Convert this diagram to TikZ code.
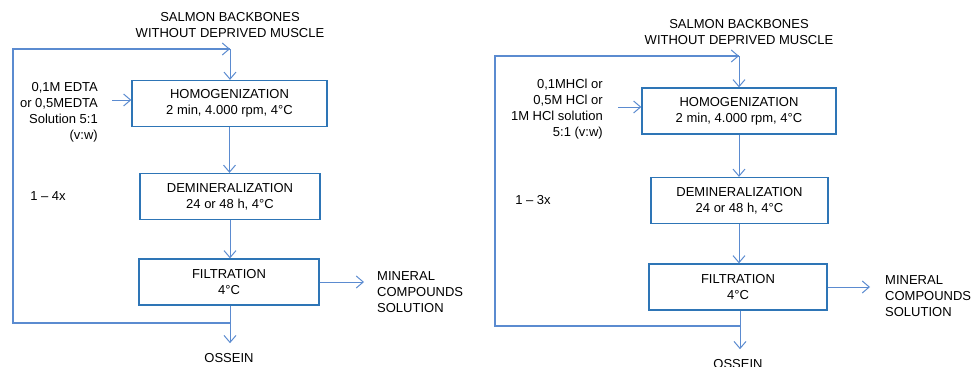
\documentclass[tikz,border=0pt]{standalone}
\usepackage{fontspec}
\setmainfont{Liberation Sans}
\usepackage{xcolor}
\usetikzlibrary{arrows.meta, positioning, calc}

\definecolor{boxblue}{HTML}{2E75B6}
\definecolor{arrblue}{HTML}{5B8BD0}

\begin{document}
\begin{tikzpicture}[
    x=1pt, y=-1pt,
    stage/.style={draw=boxblue, line width=1.3pt, rectangle, minimum height=46pt,
                  align=center, inner sep=0pt, font=\fontsize{13}{16}\selectfont},
    txt/.style={inner sep=0pt, font=\fontsize{13}{16}\selectfont},
    arr/.style={-{Straight Barb[length=7pt,width=12pt]}, draw=arrblue, line width=1pt},
    loop/.style={draw=arrblue, line width=1.4pt},
  ]
  \useasboundingbox (0,0) rectangle (978,367);

  % EDTA --- left side
  \node[txt, align=center] (raw1) at (230,25)
    {SALMON BACKBONES\\WITHOUT DEPRIVED MUSCLE};
  \node[stage, minimum width=195pt] (homog1) at (229.5,103.5)
    {HOMOGENIZATION\\2 min, 4.000 rpm, 4°C};
  \node[stage, minimum width=180pt] (demin1) at (230,196.5)
    {DEMINERALIZATION\\24 or 48 h, 4°C};
  \node[stage, minimum width=180pt] (filt1) at (229,282)
    {FILTRATION\\4°C};
  \node[txt, align=right, anchor=east] (in1) at (98,112)
    {0,1M EDTA\\or 0,5MEDTA\\Solution 5:1\\(v:w)};
  \node[txt, align=left, anchor=west] (min1) at (377,292)
    {MINERAL\\COMPOUNDS\\SOLUTION};
  \node[txt] (oss1) at (229,358) {OSSEIN};
  \node[txt] (rep1) at (48,196) {1 – 4x};
  \coordinate (top1)  at (230,49);
  \coordinate (bot1)  at (230,323);
  \coordinate (side1) at (13,190);
  \coordinate (feed1) at (112,100);
  \draw[arr] (feed1) -- (feed1 -| homog1.west);
  \draw[arr] (top1) -- (top1 |- homog1.north);
  \draw[arr] (homog1.south) -- (homog1.south |- demin1.north);
  \draw[arr] (demin1.south) -- (demin1.south |- filt1.north);
  \draw[arr, shorten >=13pt] (filt1.east) -- (filt1.east -| min1.west);
  \draw[arr, shorten >=10pt] (bot1 |- filt1.south) -- (bot1 |- oss1.north);
  \draw[loop] (bot1) -| (side1) |- (top1);
  \draw[arr] ($(top1)+(-20,0)$) -- (top1);

  % HCl --- right side
  \node[txt, align=center] (raw2) at (739,32)
    {SALMON BACKBONES\\WITHOUT DEPRIVED MUSCLE};
  \node[stage, minimum width=194pt] (homog2) at (739,111)
    {HOMOGENIZATION\\2 min, 4.000 rpm, 4°C};
  \node[stage, minimum width=177pt] (demin2) at (739.5,200.5)
    {DEMINERALIZATION\\24 or 48 h, 4°C};
  \node[stage, minimum width=178pt] (filt2) at (738,287)
    {FILTRATION\\4°C};
  \node[txt, align=right, anchor=east] (in2) at (603,109)
    {0,1MHCl or\\0,5M HCl or\\1M HCl solution\\5:1 (v:w)};
  \node[txt, align=left, anchor=west] (min2) at (885,296)
    {MINERAL\\COMPOUNDS\\SOLUTION};
  \node[txt] (oss2) at (738,364) {OSSEIN};
  \node[txt] (rep2) at (533,200) {1 – 3x};
  \coordinate (top2)  at (739,56);
  \coordinate (bot2)  at (740,326);
  \coordinate (side2) at (495,190);
  \coordinate (feed2) at (618,107);
  \draw[arr] (feed2) -- (feed2 -| homog2.west);
  \draw[arr] (top2) -- (top2 |- homog2.north);
  \draw[arr] (top2 |- homog2.south) -- (top2 |- demin2.north);
  \draw[arr] (top2 |- demin2.south) -- (top2 |- filt2.north);
  \draw[arr, shorten >=15pt] (filt2.east) -- (filt2.east -| min2.west);
  \draw[arr, shorten >=10pt] (bot2 |- filt2.south) -- (bot2 |- oss2.north);
  \draw[loop] (bot2) -| (side2) |- (top2);
  \draw[arr] ($(top2)+(-20,0)$) -- (top2);
\end{tikzpicture}
\end{document}
